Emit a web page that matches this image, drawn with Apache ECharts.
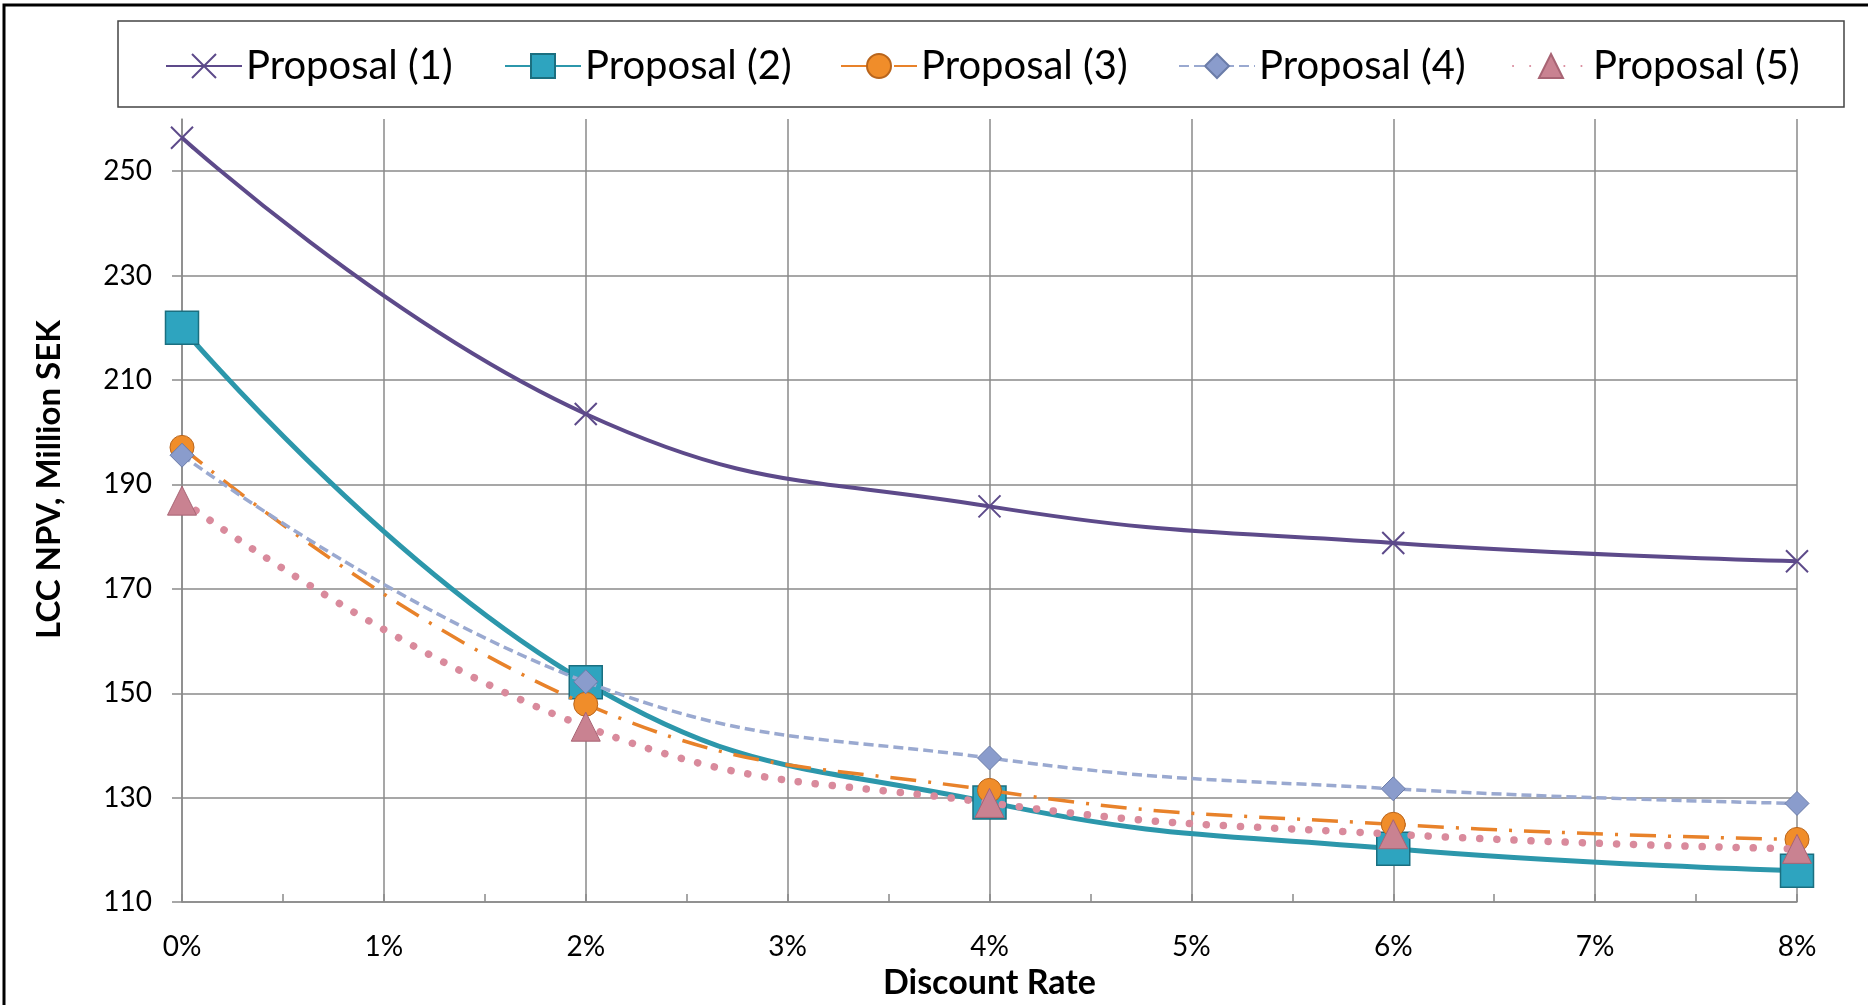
<!DOCTYPE html>
<html>
<head>
<meta charset="utf-8">
<script src="https://cdn.jsdelivr.net/npm/echarts@6/dist/echarts.min.js"></script>
<style>
html,body{margin:0;padding:0;background:#fff;}
#chart{width:1868px;height:1005px;}
</style>
</head>
<body>
<div id="chart"></div>
<script>
// ---- data ----
const rates = [0, 2, 4, 6, 8];                       // discount rate, %
const seriesNames = ['Proposal (1)', 'Proposal (2)', 'Proposal (3)', 'Proposal (4)', 'Proposal (5)'];
const proposal1 = [256.4, 203.5, 185.8, 178.8, 175.3];
const proposal2 = [220.0, 152.1, 129.1, 120.2, 116.0];
const proposal3 = [197.1, 147.9, 131.4, 124.9, 122.0];
const proposal4 = [195.6, 152.2, 137.6, 131.7, 128.9];
const proposal5 = [186.9, 143.6, 129.0, 123.0, 120.2];
const xTickLabels = ['0%', '1%', '2%', '3%', '4%', '5%', '6%', '7%', '8%'];
const yTickValues = [110, 130, 150, 170, 190, 210, 230, 250];
const xTitle = 'Discount Rate';
const yTitle = 'LCC NPV, Million SEK';

const FONT = 'Lato, "Open Sans", sans-serif';
const GRID = '#8a8a8a';
const pts = arr => rates.map((r, i) => [r, arr[i]]);

const chart = echarts.init(document.getElementById('chart'), null, {renderer: 'canvas'});

const styles = [
  {data: proposal1, color: '#5d4a8a', line: {width: 4, type: 'solid'},
   symbol: 'path://M0,0 L10,10 M10,0 L0,10', size: 22,
   item: {color: 'none', borderColor: '#5d4a8a', borderWidth: 2}},
  {data: proposal2, color: '#2c97ab', line: {width: 5, type: 'solid'},
   symbol: 'rect', size: 33,
   item: {color: '#2ea4bf', borderColor: '#1b6f80', borderWidth: 1.5}},
  {data: proposal3, color: '#e8822a', line: {width: 3.5, type: [26, 12, 3, 12]},
   symbol: 'circle', size: 24,
   item: {color: '#f08d2a', borderColor: '#b9651c', borderWidth: 1}},
  {data: proposal4, color: '#9aa9d0', line: {width: 3.5, type: [10, 5]},
   symbol: 'diamond', size: 24,
   item: {color: '#8a9ccc', borderColor: '#6b7ca8', borderWidth: 1}},
  {data: proposal5, color: '#d98a9c', line: {width: 7.5, type: [0.1, 17], cap: 'round'},
   symbol: 'triangle', size: 29,
   item: {color: '#c98291', borderColor: '#a86474', borderWidth: 1}}
];

const series = styles.map((s, i) => ({
  name: seriesNames[i],
  type: 'line',
  data: pts(s.data),
  smooth: 0.45,
  symbol: s.symbol,
  symbolSize: s.size,
  lineStyle: Object.assign({color: s.color}, s.line),
  itemStyle: s.item,
  z: 2 + i
}));

const legendLefts = [165, 504, 840, 1178, 1512];
const legends = seriesNames.map((n, i) => ({
  data: [n],
  left: legendLefts[i],
  top: 46,
  padding: 0,
  itemWidth: 76,
  itemHeight: 30,
  itemGap: 0,
  selectedMode: false,
  textStyle: {fontFamily: FONT, fontSize: 40, color: '#000', padding: [0, 0, 0, -1]}
}));

chart.setOption({
  animation: false,
  backgroundColor: '#fff',
  graphic: [
    {type: 'rect', shape: {x: 4, y: 5, width: 1900, height: 1100},
     style: {fill: 'none', stroke: '#000', lineWidth: 3}, z: 0, silent: true},
    {type: 'rect', shape: {x: 118, y: 21, width: 1726, height: 86},
     style: {fill: '#fff', stroke: '#444', lineWidth: 1.5}, z: 0, silent: true}
  ],
  legend: legends,
  grid: {left: 182, right: 71, top: 119, bottom: 97, containLabel: false},
  xAxis: {
    type: 'value', min: 0, max: 8, interval: 1,
    name: xTitle, nameLocation: 'middle', nameGap: 59,
    nameTextStyle: {fontFamily: FONT, fontSize: 34, fontWeight: 'bold', color: '#000'},
    axisLine: {lineStyle: {color: GRID, width: 1.5}},
    axisTick: {show: true, inside: true, length: 8, lineStyle: {color: GRID, width: 1.5}},
    minorTick: {show: true, splitNumber: 2, length: 8, lineStyle: {color: GRID, width: 1.5}},
    axisLabel: {formatter: v => xTickLabels[Math.round(v)], fontFamily: FONT, fontSize: 28, color: '#000', margin: 31},
    splitLine: {show: true, lineStyle: {color: GRID, width: 1.5}}
  },
  yAxis: {
    type: 'value', min: 110, max: 260, interval: 10,
    name: yTitle, nameLocation: 'middle', nameGap: 116,
    nameTextStyle: {fontFamily: FONT, fontSize: 33, fontWeight: 'bold', color: '#000', padding: [0, 0, 0, 62]},
    axisLine: {show: true, lineStyle: {color: GRID, width: 1.5}},
    axisTick: {show: true, length: 10, customValues: yTickValues, lineStyle: {color: GRID, width: 1.5}},
    axisLabel: {customValues: yTickValues, fontFamily: FONT, fontSize: 28, color: '#000', margin: 30},
    splitLine: {show: true, lineStyle: {color: GRID, width: 1.5}}
  },
  series: series
});
</script>
</body>
</html>
